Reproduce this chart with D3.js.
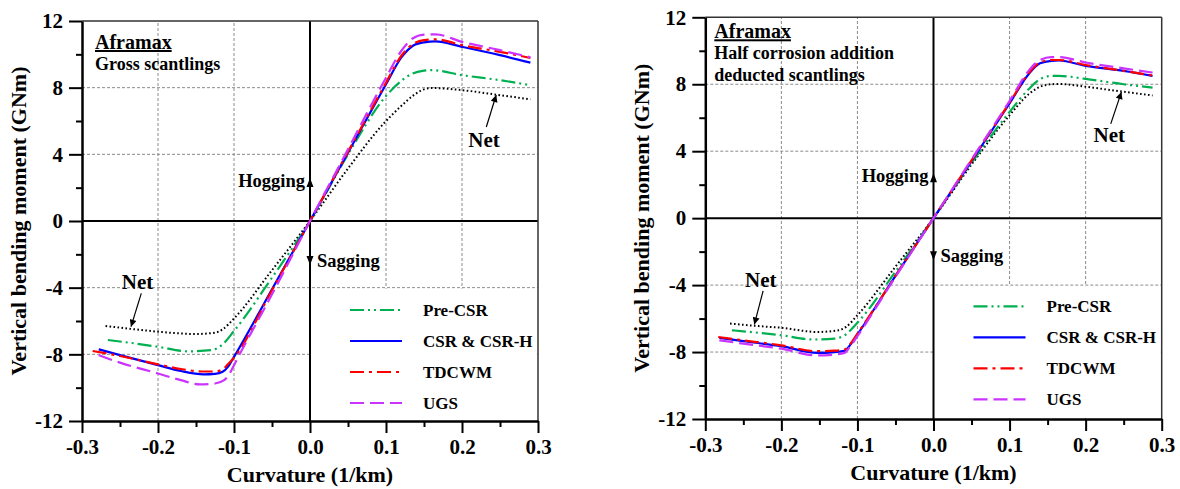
<!DOCTYPE html>
<html>
<head>
<meta charset="utf-8">
<script src="https://cdn.jsdelivr.net/npm/d3@7"></script>
<style>
body { margin: 0; background: #fff; }
text { font-family: "Liberation Serif", "Times New Roman", serif; font-weight: bold; fill: #000; }
</style>
</head>
<body>
<script>
// ====== DATA (curvature 1/km, moment GNm) ======
var grossNet = [[-0.269,-6.3],[-0.23,-6.5],[-0.2,-6.64],[-0.15,-6.78],[-0.125,-6.7],[-0.115,-6.5],[-0.1,-5.85],[-0.05,-2.95],[0,0],
    [0.05,3.15],[0.096,5.8],[0.12,6.9],[0.135,7.5],[0.15,7.9],[0.16,7.98],[0.2,7.85],[0.25,7.55],[0.29,7.3]];
var grossPreCSR = [[-0.266,-7.14],[-0.23,-7.35],[-0.2,-7.55],[-0.16,-7.82],[-0.13,-7.75],[-0.115,-7.4],[-0.1,-6.6],[-0.05,-3.4],[0,0],
    [0.05,4.0],[0.1,7.5],[0.12,8.4],[0.135,8.85],[0.15,9.02],[0.16,9.05],[0.2,8.75],[0.25,8.45],[0.29,8.15]];
var grossCSR = [[-0.278,-7.7],[-0.25,-8.05],[-0.2,-8.65],[-0.17,-9.0],[-0.14,-9.2],[-0.125,-9.17],[-0.115,-9.05],[-0.108,-8.75],[-0.1,-8.15],[-0.05,-4.1],[0,0],
    [0.05,4.1],[0.1,8.2],[0.12,9.8],[0.135,10.5],[0.15,10.72],[0.165,10.78],[0.2,10.45],[0.25,9.95],[0.29,9.5]];
var grossTDCWM = [[-0.286,-7.8],[-0.25,-8.1],[-0.2,-8.6],[-0.17,-8.88],[-0.14,-9.03],[-0.125,-9.03],[-0.115,-8.9],[-0.108,-8.6],[-0.1,-8.2],[-0.05,-4.15],[0,0],
    [0.05,4.15],[0.1,8.3],[0.12,9.9],[0.135,10.6],[0.15,10.85],[0.165,10.9],[0.2,10.55],[0.25,10.15],[0.29,9.78]];
var grossUGS = [[-0.278,-8.05],[-0.25,-8.5],[-0.2,-9.15],[-0.17,-9.55],[-0.145,-9.8],[-0.125,-9.75],[-0.113,-9.55],[-0.105,-9.1],[-0.1,-8.65],[-0.05,-4.4],[0,0],
    [0.05,4.3],[0.1,8.6],[0.12,10.2],[0.135,10.95],[0.15,11.18],[0.165,11.2],[0.2,10.75],[0.25,10.25],[0.29,9.82]];

var halfNet = [[-0.2675,-6.3],[-0.23,-6.45],[-0.2,-6.55],[-0.153,-6.8],[-0.125,-6.7],[-0.115,-6.5],[-0.1,-5.8],[-0.05,-2.9],[0,0],
    [0.05,3.2],[0.1,6.15],[0.125,7.4],[0.14,7.85],[0.155,8.0],[0.165,8.02],[0.2,7.85],[0.25,7.55],[0.288,7.33]];
var halfPreCSR = [[-0.265,-6.7],[-0.23,-6.85],[-0.2,-7.0],[-0.158,-7.25],[-0.13,-7.2],[-0.117,-7.0],[-0.1,-6.25],[-0.05,-3.2],[0,0],
    [0.05,3.3],[0.1,6.35],[0.125,7.7],[0.14,8.3],[0.155,8.5],[0.165,8.5],[0.2,8.32],[0.25,8.0],[0.288,7.8]];
var halfCSR = [[-0.2815,-7.15],[-0.25,-7.35],[-0.2,-7.65],[-0.153,-8.05],[-0.13,-8.0],[-0.117,-7.93],[-0.11,-7.6],[-0.1,-6.95],[-0.05,-3.45],[0,0],
    [0.05,3.4],[0.1,6.85],[0.125,8.6],[0.14,9.25],[0.155,9.4],[0.165,9.42],[0.2,9.1],[0.25,8.8],[0.288,8.5]];
var halfTDCWM = [[-0.283,-7.1],[-0.25,-7.3],[-0.2,-7.6],[-0.153,-7.95],[-0.13,-7.92],[-0.117,-7.85],[-0.11,-7.55],[-0.1,-6.9],[-0.05,-3.45],[0,0],
    [0.05,3.45],[0.1,6.9],[0.125,8.65],[0.14,9.3],[0.155,9.45],[0.165,9.45],[0.2,9.15],[0.25,8.8],[0.288,8.52]];
var halfUGS = [[-0.2815,-7.3],[-0.25,-7.5],[-0.2,-7.8],[-0.153,-8.2],[-0.13,-8.15],[-0.117,-8.05],[-0.11,-7.7],[-0.1,-7.05],[-0.05,-3.5],[0,0],
    [0.05,3.5],[0.1,7.0],[0.125,8.8],[0.14,9.45],[0.155,9.62],[0.165,9.62],[0.2,9.3],[0.25,8.95],[0.288,8.7]];

var xTicks = [-0.3,-0.2,-0.1,0,0.1,0.2,0.3];
var xMinorTicks = [-0.25,-0.15,-0.05,0.05,0.15,0.25];
var yTicks = [-12,-8,-4,0,4,8,12];
var yMinorTicks = [-10,-6,-2,2,6,10];
var gridX = [-0.2,-0.1,0.1,0.2];
var gridY = [-8,-4,4,8];

var seriesNames = ["Pre-CSR","CSR & CSR-H","TDCWM","UGS"];
var seriesColors = ["#00b050","#0000ff","#ff0000","#cc33ff"];
var seriesDashes = ["14,4,2,4,2,4", null, "14,5,3,5", "14,6"];

var svg = d3.select("body").append("svg")
    .attr("width", 1180)
    .attr("height", 489);

svg.append("defs").append("marker")
    .attr("id", "head")
    .attr("viewBox", "0 0 10 10")
    .attr("refX", 10).attr("refY", 5)
    .attr("markerWidth", 9).attr("markerHeight", 7)
    .attr("markerUnits", "userSpaceOnUse")
    .attr("orient", "auto")
  .append("path")
    .attr("d", "M0,0 L10,5 L0,10 z")
    .attr("fill", "#000");

function drawPanel(p) {
    var x = d3.scaleLinear().domain([-0.3, 0.3]).range([p.left, p.right]);
    var y = d3.scaleLinear().domain([-12, 12]).range([p.bottom, p.top]);
    var g = svg.append("g");

    // ====== GRID ======
    g.selectAll(".gx").data(gridX).enter().append("line")
        .attr("x1", function(d) { return x(d) }).attr("x2", function(d) { return x(d) })
        .attr("y1", y(-12)).attr("y2", y(12))
        .style("stroke", "#8a8a8a").style("stroke-dasharray", "3,2").style("stroke-width", 1);
    g.selectAll(".gy").data(gridY).enter().append("line")
        .attr("x1", x(-0.3)).attr("x2", x(0.3))
        .attr("y1", function(d) { return y(d) }).attr("y2", function(d) { return y(d) })
        .style("stroke", "#8a8a8a").style("stroke-dasharray", "3,2").style("stroke-width", 1);

    // legend background hides the grid
    g.append("rect")
        .attr("x", x(0) + 1).attr("y", y(-4) + 1)
        .attr("width", x(0.3) - x(0) - 2).attr("height", y(-12) - y(-4) - 2)
        .style("fill", "#fff");

    // ====== ZERO LINES ======
    g.append("line").attr("x1", x(-0.3)).attr("x2", x(0.3)).attr("y1", y(0)).attr("y2", y(0))
        .style("stroke", "#000").style("stroke-width", 2);
    g.append("line").attr("x1", x(0)).attr("x2", x(0)).attr("y1", y(-12)).attr("y2", y(12))
        .style("stroke", "#000").style("stroke-width", 2);

    // ====== CURVES ======
    var line = d3.line()
        .x(function(d) { return x(d[0]) })
        .y(function(d) { return y(d[1]) })
        .curve(d3.curveMonotoneX);

    g.append("path").datum(p.net).attr("d", line)
        .style("fill", "none").style("stroke", "#000")
        .style("stroke-width", 2).style("stroke-dasharray", "1.6,2.4");

    [0, 1, 2, 3].forEach(function(i) {
        g.append("path").datum(p.series[i]).attr("d", line)
            .style("fill", "none").style("stroke", seriesColors[i])
            .style("stroke-width", 2.2)
            .style("stroke-dasharray", seriesDashes[i]);
    });

    // ====== FRAME & AXES ======
    g.append("line").attr("x1", x(-0.3)).attr("x2", x(0.3)).attr("y1", y(12)).attr("y2", y(12))
        .style("stroke", "#333").style("stroke-width", 1.5);
    g.append("line").attr("x1", x(0.3)).attr("x2", x(0.3)).attr("y1", y(12)).attr("y2", y(-12))
        .style("stroke", "#333").style("stroke-width", 1.5);

    g.append("g").attr("transform", "translate(" + p.left + ",0)")
        .call(d3.axisLeft(y).tickValues(yTicks).tickSize(13).tickSizeOuter(0).tickPadding(6)
            .tickFormat(function(d) { return String(d) }));
    g.append("g").attr("transform", "translate(" + p.left + ",0)")
        .call(d3.axisLeft(y).tickValues(yMinorTicks).tickSize(6).tickSizeOuter(0).tickFormat(""))
        .select(".domain").remove();

    g.append("g").attr("transform", "translate(0," + p.bottom + ")")
        .call(d3.axisBottom(x).tickValues(xTicks).tickSize(12).tickSizeOuter(0).tickPadding(6)
            .tickFormat(function(d) { return d.toFixed(1) }));
    g.append("g").attr("transform", "translate(0," + p.bottom + ")")
        .call(d3.axisBottom(x).tickValues(xMinorTicks).tickSize(6).tickSizeOuter(0).tickFormat(""))
        .select(".domain").remove();

    g.selectAll(".domain").style("stroke", "#000").style("stroke-width", 2.5);
    g.selectAll(".tick line").style("stroke", "#000").style("stroke-width", 2);
    g.selectAll(".tick text")
        .style("font-family", "'Liberation Serif', 'Times New Roman', serif")
        .style("font-weight", "bold").style("font-size", "21px").style("fill", "#000");

    // axis titles
    g.append("text")
        .attr("transform", "translate(" + (p.left - 64) + "," + y(0) + ") rotate(-90)")
        .attr("text-anchor", "middle").attr("dy", "0.35em")
        .style("font-size", "22px")
        .text("Vertical bending moment (GNm)");
    g.append("text")
        .attr("x", x(0)).attr("y", p.bottom + 61)
        .attr("text-anchor", "middle")
        .style("font-size", "22px")
        .text("Curvature (1/km)");

    // ====== TITLE ======
    g.append("text")
        .attr("x", p.left + p.titleDx).attr("y", p.top + p.titleDy)
        .style("font-size", "20px").style("text-decoration", "underline")
        .text("Aframax");
    p.subtitle.forEach(function(s, i) {
        g.append("text")
            .attr("x", p.left + p.titleDx).attr("y", p.top + p.titleDy + 21 + i * 22)
            .style("font-size", "18px")
            .text(s);
    });

    // ====== HOGGING / SAGGING ======
    g.append("text").attr("x", x(0) - 5).attr("y", y(0) - p.hogDy)
        .attr("text-anchor", "end").style("font-size", "18.5px").text("Hogging");
    g.append("path")
        .attr("d", "M" + x(0) + "," + (y(0) - p.hogDy - 9) + " l-3.5,9 l7,0 z")
        .style("fill", "#000");
    g.append("text").attr("x", x(0) + 7).attr("y", y(0) + p.sagDy)
        .style("font-size", "18.5px").text("Sagging");
    g.append("path")
        .attr("d", "M" + x(0) + "," + (y(0) + p.sagDy - 2) + " l-3.5,-9 l7,0 z")
        .style("fill", "#000");

    // ====== NET LABELS ======
    p.netNotes.forEach(function(n) {
        g.append("text").attr("x", x(n.tx)).attr("y", y(n.ty))
            .attr("text-anchor", "middle").style("font-size", "21px").text("Net");
        g.append("line")
            .attr("x1", x(n.ax)).attr("y1", y(n.ay))
            .attr("x2", x(n.bx)).attr("y2", y(n.by))
            .style("stroke", "#000").style("stroke-width", 1.2)
            .attr("marker-end", "url(#head)");
    });

    // ====== LEGEND ======
    seriesNames.forEach(function(name, i) {
        var ly = p.top + 289 + i * 31;
        g.append("line")
            .attr("x1", x(0) + 40).attr("x2", x(0) + 92)
            .attr("y1", ly).attr("y2", ly)
            .style("stroke", seriesColors[i]).style("stroke-width", 2.2)
            .style("stroke-dasharray", seriesDashes[i]);
        g.append("text").attr("x", x(0) + 113).attr("y", ly).attr("dy", "0.35em")
            .style("font-size", "17px").text(name);
    });
}

drawPanel({
    left: 82, right: 538, top: 21, bottom: 421,
    series: [grossPreCSR, grossCSR, grossTDCWM, grossUGS],
    net: grossNet,
    subtitle: ["Gross scantlings"],
    titleDx: 13, titleDy: 28,
    hogDy: 34, sagDy: 46,
    netNotes: [
        { tx: 0.229, ty: 4.44, ax: 0.232, ay: 5.64, bx: 0.245, by: 7.56 },
        { tx: -0.227, ty: -4.08, ax: -0.222, ay: -4.34, bx: -0.2355, by: -6.34 }
    ]
});

drawPanel({
    left: 705.3, right: 1161.7, top: 17.3, bottom: 419,
    series: [halfPreCSR, halfCSR, halfTDCWM, halfUGS],
    net: halfNet,
    subtitle: ["Half corrosion addition", "deducted scantlings"],
    titleDx: 9, titleDy: 21,
    hogDy: 36, sagDy: 44,
    netNotes: [
        { tx: 0.231, ty: 4.53, ax: 0.233, ay: 5.63, bx: 0.247, by: 7.53 },
        { tx: -0.227, ty: -4.09, ax: -0.224, ay: -4.35, bx: -0.2355, by: -6.35 }
    ]
});
</script>
</body>
</html>
